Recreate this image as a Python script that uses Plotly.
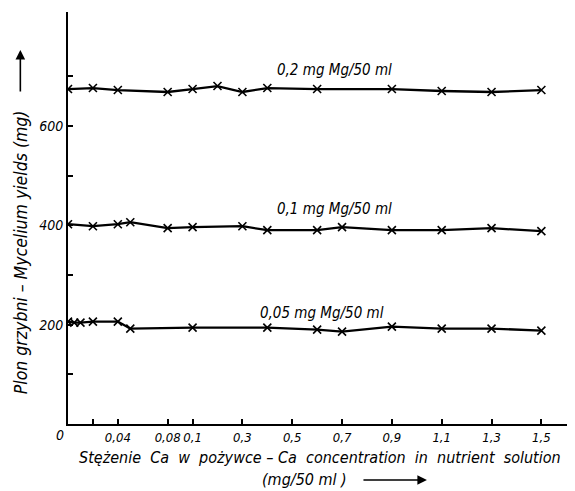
import plotly.graph_objects as go

# ---- data (Ca concentration in mg/50 ml, mycelium yield in mg) ----
ca_02 = [0, 0.02, 0.04, 0.08, 0.1, 0.2, 0.3, 0.4, 0.6, 0.9, 1.1, 1.3, 1.5]
yield_02 = [674, 676, 672, 668, 674, 680, 668, 676, 674, 674, 670, 668, 672]

ca_01 = [0, 0.02, 0.04, 0.05, 0.08, 0.1, 0.3, 0.4, 0.6, 0.7, 0.9, 1.1, 1.3, 1.5]
yield_01 = [402, 398, 402, 406, 394, 396, 398, 390, 390, 396, 390, 390, 394, 388]

ca_005 = [0, 0.005, 0.01, 0.02, 0.04, 0.05, 0.1, 0.4, 0.6, 0.7, 0.9, 1.1, 1.3, 1.5]
yield_005 = [206, 204, 204, 206, 206, 192, 194, 194, 190, 186, 196, 192, 192, 188]

series_labels = ["0,2 mg Mg/50 ml", "0,1 mg Mg/50 ml", "0,05 mg Mg/50 ml"]

x_tick_vals = [0, 0.02, 0.04, 0.08, 0.1, 0.3, 0.5, 0.7, 0.9, 1.1, 1.3, 1.5]
x_tick_text = ["", "", "0,04", "0,08", "0,1", "0,3", "0,5", "0,7", "0,9", "1,1", "1,3", "1,5"]
y_tick_vals = [0, 100, 200, 300, 400, 500, 600, 700]
y_tick_text = ["", "", "200", "", "400", "", "600", ""]


def to_axis(c):
    """Broken (piecewise linear) Ca scale of the original figure:
    0-0.1 in steps of 0.02 per unit, above 0.1 in steps of 0.1 per unit."""
    if c <= 0.1:
        return c / 0.02
    return 5 + (c - 0.1) / 0.1


FONT = "DejaVu Sans Condensed, Liberation Sans Narrow, DejaVu Sans"

fig = go.Figure()
for xs, ys in [(ca_02, yield_02), (ca_01, yield_01), (ca_005, yield_005)]:
    fig.add_trace(go.Scatter(
        x=[to_axis(c) for c in xs], y=ys, mode="lines+markers",
        line=dict(color="black", width=2.3),
        marker=dict(symbol="x-thin", size=8, line=dict(color="black", width=1.6)),
        showlegend=False, hoverinfo="skip"))

label_x = [to_axis(0.67), to_axis(0.67), to_axis(0.62)]
label_y = [712, 433, 223]
for txt, lx, ly in zip(series_labels, label_x, label_y):
    fig.add_annotation(x=lx, y=ly, xref="x", yref="y", text=txt, showarrow=False,
                       font=dict(family=FONT, size=15, color="black", style="italic"))

# origin label
fig.add_annotation(x=0, y=0, xref="x", yref="y", text="0", showarrow=False,
                   xanchor="right", yanchor="top", xshift=-2, yshift=-1,
                   font=dict(family=FONT, size=14, color="black", style="italic"))

# y-axis title and arrow
fig.add_annotation(x=-0.094, y=0.418, xref="paper", yref="paper",
                   text="Plon grzybni – Mycelium yields (mg)", textangle=-90,
                   showarrow=False, xanchor="center", yanchor="middle",
                   font=dict(family=FONT, size=17.5, color="black", style="italic"))
fig.add_annotation(x=-0.094, y=0.908, xref="paper", yref="paper", ax=0, ay=43,
                   text="", showarrow=True, arrowhead=2, arrowsize=1.2,
                   arrowwidth=1.6, arrowcolor="black")

# x-axis title (two lines) and arrow
fig.add_annotation(x=0.497, y=-0.0825, xref="paper", yref="paper",
                   text="Stężenie  Ca  w  pożywce – Ca  concentration  in  nutrient  solution",
                   showarrow=False, xanchor="center", yanchor="middle",
                   font=dict(family=FONT, size=16, color="black", style="italic"))
fig.add_annotation(x=0.467, y=-0.1335, xref="paper", yref="paper",
                   text="(mg/50 ml )", showarrow=False, xanchor="center", yanchor="middle",
                   font=dict(family=FONT, size=16, color="black", style="italic"))
fig.add_annotation(x=0.708, y=-0.136, xref="paper", yref="paper", ax=-65, ay=0,
                   text="", showarrow=True, arrowhead=2, arrowsize=1.2,
                   arrowwidth=1.6, arrowcolor="black")

# page body has an 8 px default margin, so the figure is sized/offset for it
fig.update_layout(
    width=567, height=483,
    margin=dict(l=60, r=0, t=4, b=67, autoexpand=False),
    paper_bgcolor="white", plot_bgcolor="white",
    xaxis=dict(range=[0, 20.35], showgrid=False, zeroline=False, automargin=False,
               showline=True, linecolor="black", linewidth=2,
               ticks="inside", ticklen=5, tickwidth=1.5, tickcolor="black",
               tickangle=0,
               tickvals=[to_axis(c) for c in x_tick_vals], ticktext=x_tick_text,
               tickfont=dict(family=FONT, size=13, color="black", style="italic")),
    yaxis=dict(range=[0, 829], showgrid=False, zeroline=False, automargin=False,
               showline=True, linecolor="black", linewidth=2,
               ticks="inside", ticklen=5, tickwidth=1.5, tickcolor="black",
               tickvals=y_tick_vals, ticktext=y_tick_text,
               tickfont=dict(family=FONT, size=14, color="black", style="italic")),
)

fig.write_html("out.html")
